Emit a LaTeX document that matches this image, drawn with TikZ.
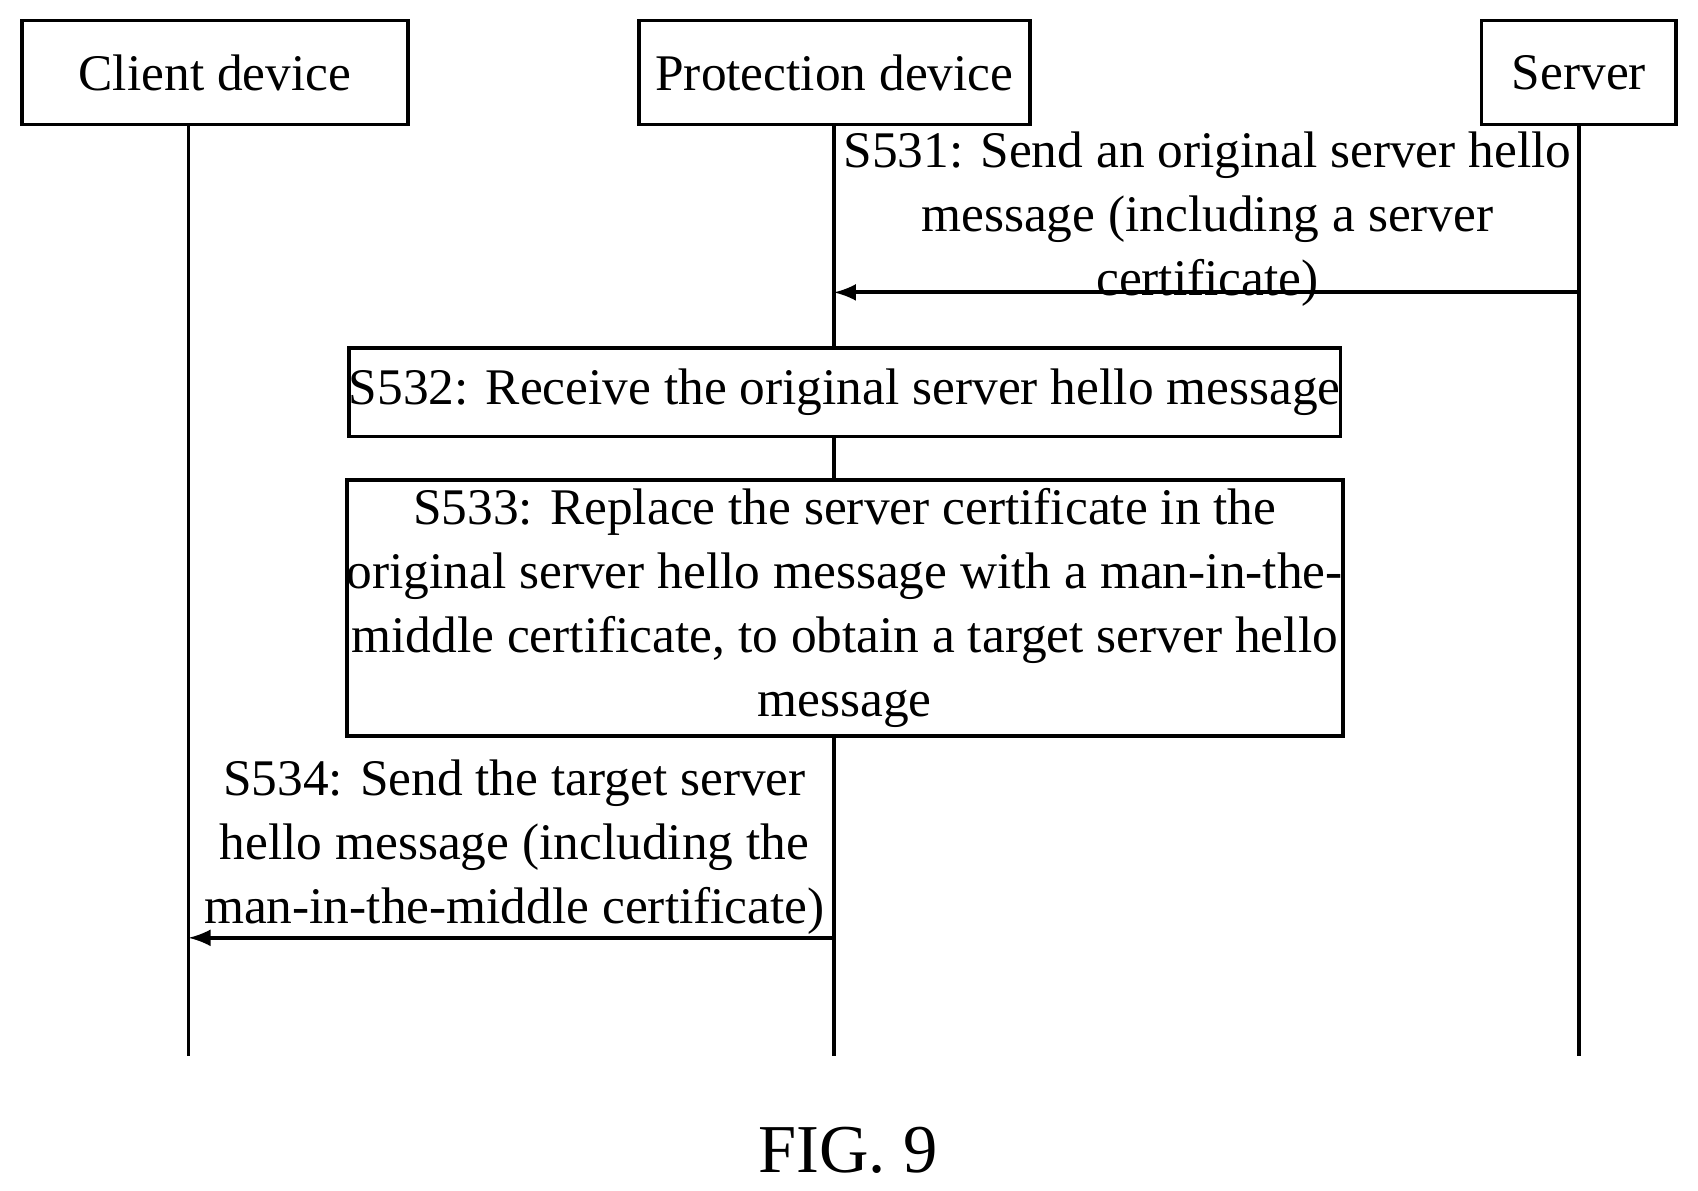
\documentclass[tikz,border=0pt]{standalone}
\usepackage{fontspec}
\setmainfont{Liberation Serif}
\usetikzlibrary{positioning}
\begin{document}
\begin{tikzpicture}[
        actor/.style = {draw, line width=1pt, fill=white, minimum height=0.96cm, inner sep=0pt},
        stepbox/.style = {draw, line width=1pt, fill=white, minimum width=8.94cm, inner sep=0pt, align=center},
        msg/.style = {align=center, inner sep=0pt},
        font = \fontsize{13.5pt}{16.8pt}\selectfont
        ]
        \useasboundingbox (0,0) rectangle (15.68,-10.99);
%
        \node[actor, minimum width=3.57cm] (client) at (1.985,-0.67) {Client device};
        \node[actor, minimum width=3.61cm] (prot) at (7.705,-0.67) {Protection device};
        \node[actor, minimum width=1.80cm] (server) at (14.58,-0.67) {Server};
%
        \coordinate (clientTop) at (1.74,-1.15);
        \coordinate (clientEnd) at (1.74,-9.75);
        \coordinate (protEnd) at (7.70,-9.75);
        \coordinate (serverEnd) at (14.58,-9.75);
        \draw[line width=1pt] (clientTop) -- (clientEnd);
        \draw[line width=1pt] (prot.south -| protEnd) -- (protEnd);
        \draw[line width=1pt] (server) -- (serverEnd);
%
        \coordinate (s531a) at (14.58,-2.70);
        \coordinate (s531b) at (7.70,-2.70);
        \draw[-latex, line width=1pt] (s531a) -- (s531b);
        \node[msg] (m531) at (11.15,-2.02) {S531: Send an original server hello\\message (including a server\\certificate)};
%
        \node[stepbox, minimum height=0.82cm] (s532) at (7.80,-3.62) {S532: Receive the original server hello message};
        \node[stepbox, minimum height=2.37cm] (s533) at (7.80,-5.615) {S533: Replace the server certificate in the\\original server hello message with a man-in-the-\\middle certificate, to obtain a target server hello\\message};
%
        \coordinate (s534a) at (7.70,-8.66);
        \coordinate (s534b) at (1.74,-8.66);
        \draw[-latex, line width=1pt] (s534a) -- (s534b);
        \node[msg] (m534) at (4.75,-7.82) {S534: Send the target server\\hello message (including the\\man-in-the-middle certificate)};
%
        \node[font=\fontsize{18pt}{20pt}\selectfont] (fig) at (7.83,-10.62) {FIG. 9};
\end{tikzpicture}
\end{document}
